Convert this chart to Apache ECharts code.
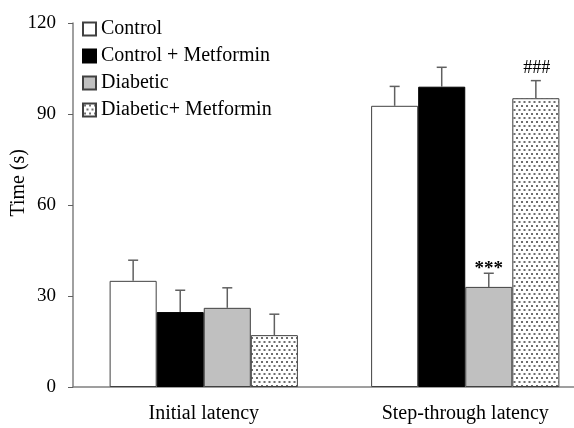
<!DOCTYPE html>
<html>
<head>
<meta charset="utf-8">
<script src="https://cdn.jsdelivr.net/npm/echarts@6/dist/echarts.min.js"></script>
<style>html,body{margin:0;padding:0;background:#fff}#c{width:574px;height:428px}</style>
</head>
<body>
<div id="c"></div>
<script>
var categories = ['Initial latency', 'Step-through latency'];
var seriesNames = ['Control', 'Control + Metformin', 'Diabetic', 'Diabetic+ Metformin'];
var control = [35.0, 92.7];
var controlMet = [24.7, 99.0];
var diabetic = [26.1, 33.0];
var diabeticMet = [17.1, 95.2];
var controlSD = [6.8, 6.4];
var controlMetSD = [7.2, 6.4];
var diabeticSD = [6.6, 4.5];
var diabeticMetSD = [6.9, 5.8];
var annotations = [['', '', '', ''], ['', '', '***', '###']];
var yTicks = [0, 30, 60, 90, 120];

var FONT = '"Liberation Serif", "Times New Roman", serif';

// dotted pattern
var pat = document.createElement('canvas');
pat.width = 5; pat.height = 8;
var pc = pat.getContext('2d');
pc.fillStyle = '#ffffff'; pc.fillRect(0, 0, 5, 8);
pc.fillStyle = '#6e6e6e';
pc.fillRect(1, 1, 2, 2);
pc.fillRect(3.5, 5, 2, 2);
pc.fillRect(-1.5, 5, 2, 2);

var means = [control, controlMet, diabetic, diabeticMet];
var sds = [controlSD, controlMetSD, diabeticSD, diabeticMetSD];
var colors = ['#ffffff', '#000000', '#c0c0c0', {image: pat, repeat: 'repeat'}];
var borders = ['#404040', '#000000', '#404040', '#404040'];

var errData = [];
for (var c = 0; c < categories.length; c++) {
  for (var s = 0; s < 4; s++) {
    errData.push([c, means[s][c], means[s][c] + sds[s][c], s, annotations[c][s]]);
  }
}

var series = seriesNames.map(function (n, i) {
  return {
    name: n, type: 'bar', data: means[i],
    barGap: '0%', barCategoryGap: '28%',
    itemStyle: {color: colors[i], borderColor: borders[i], borderWidth: 1},
    emphasis: {disabled: true}
  };
});

series.push({
  type: 'custom',
  data: errData,
  z: 5,
  renderItem: function (params, api) {
    var cat = api.value(0), mean = api.value(1), top = api.value(2), idx = api.value(3);
    var annot = errData[params.dataIndex][4];
    var p = api.coord([cat, top]);
    var pm = api.coord([cat, mean]);
    var band = api.size([1, 0])[0];
    var bw = band * 0.72 / 4;
    var x = p[0] + (idx - 1.5) * bw;
    var children = [
      {type: 'line', shape: {x1: x, y1: pm[1], x2: x, y2: p[1]}, style: {stroke: '#606060', lineWidth: 1.5}},
      {type: 'line', shape: {x1: x - 5, y1: p[1], x2: x + 5, y2: p[1]}, style: {stroke: '#606060', lineWidth: 1.5}}
    ];
    if (annot === '***') {
      children.push({type: 'text', style: {text: annot, x: x, y: p[1] - 14, align: 'center', verticalAlign: 'top',
        font: 'bold 19px ' + FONT, fill: '#000'}});
    } else if (annot) {
      children.push({type: 'text', style: {text: annot, x: x + 1, y: p[1] - 3, align: 'center', verticalAlign: 'bottom',
        font: '18px ' + FONT, fill: '#000'}});
    }
    return {type: 'group', children: children};
  }
});

var chart = echarts.init(document.getElementById('c'), null, {renderer: 'canvas'});
chart.setOption({
  animation: false,
  backgroundColor: '#fff',
  grid: {left: 73, right: -22, top: 23, bottom: 41, outerBoundsMode: 'none', containLabel: false},
  legend: {
    data: seriesNames, orient: 'vertical', left: 77, top: 14,
    itemWidth: 13, itemHeight: 13, itemGap: 7, icon: 'rect',
    textStyle: {fontFamily: FONT, fontSize: 20, color: '#000'},
    selectedMode: false
  },
  xAxis: {
    type: 'category', data: categories,
    axisLine: {lineStyle: {color: '#808080', width: 1.5}},
    axisTick: {show: false},
    axisLabel: {fontFamily: FONT, fontSize: 20, color: '#000', margin: 17}
  },
  yAxis: {
    type: 'value', min: yTicks[0], max: yTicks[yTicks.length - 1], interval: 30,
    splitLine: {show: false},
    axisLine: {show: true, lineStyle: {color: '#808080', width: 1.5}},
    axisTick: {show: true, length: 5, lineStyle: {color: '#606060'}},
    axisLabel: {fontFamily: FONT, fontSize: 19, color: '#000', margin: 17}
  },
  graphic: [{
    type: 'text', left: 9, top: 149, rotation: Math.PI / 2,
    style: {text: 'Time (s)', font: '20px ' + FONT, fill: '#000'}
  }],
  series: series
});
</script>
</body>
</html>
